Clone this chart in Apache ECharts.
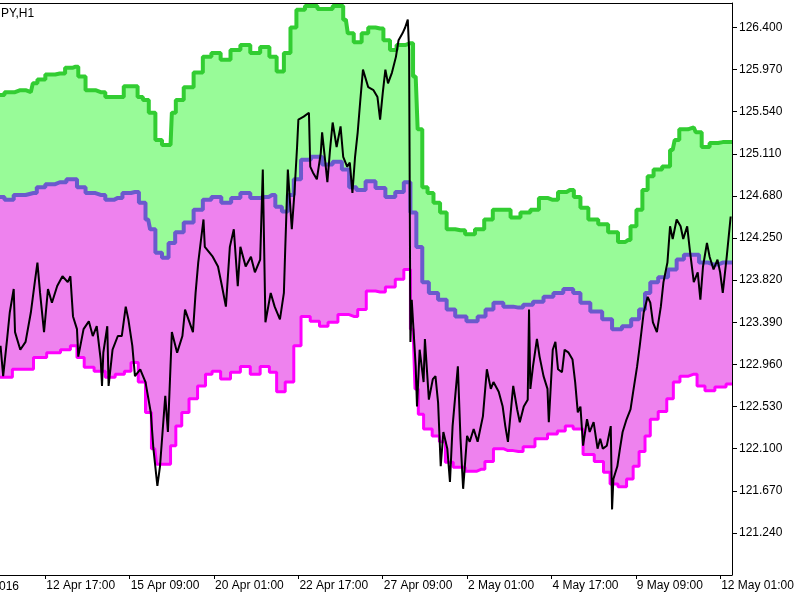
<!DOCTYPE html>
<html>
<head>
<meta charset="utf-8">
<script src="https://cdn.jsdelivr.net/npm/echarts@6/dist/echarts.min.js"></script>
<style>
html, body { margin: 0; padding: 0; background: #fff; }
#chart { width: 800px; height: 600px; }
</style>
</head>
<body>
<div id="chart"></div>
<script>
// x = hourly bar number, counted from the first date label
var xTicks = [0, 64, 128, 192, 256, 320, 384, 448, 512, 576];
var xLabels = ['8 Apr 2016', '12 Apr 17:00', '15 Apr 09:00', '20 Apr 01:00', '22 Apr 17:00',
    '27 Apr 09:00', '2 May 01:00', '4 May 17:00', '9 May 09:00', '12 May 01:00'];
var yTicks = [121.24, 121.67, 122.10, 122.53, 122.96, 123.39, 123.82, 124.25, 124.68, 125.11, 125.54, 125.97, 126.40];

var upperBand = [[29,125.71],[37,125.74],[45,125.76],[53,125.74],[56,125.83],[60,125.87],[68,125.92],[75,125.93],
    [83,125.99],[87,126.00],[91,125.90],[98,125.76],[106,125.74],[113,125.69],[121,125.69],[126,125.80],[132,125.80],
    [136,125.69],[140,125.66],[145,125.53],[150,125.25],[155,125.20],[159,125.20],[161,125.53],[165,125.66],[173,125.79],
    [180,125.94],[187,126.10],[193,126.14],[201,126.07],[208,126.17],[216,126.22],[223,126.14],[231,126.20],[237,126.10],
    [242,125.95],[248,126.14],[252,126.40],[257,126.58],[265,126.62],[276,126.59],[288,126.62],[292,126.48],[295,126.34],
    [301,126.25],[307,126.34],[311,126.40],[318,126.39],[323,126.27],[328,126.17],[333,126.22],[341,126.24],[345,125.90],
    [348,125.36],[352,124.77],[356,124.71],[361,124.61],[366,124.51],[371,124.34],[379,124.33],[386,124.29],[394,124.34],
    [400,124.44],[407,124.54],[413,124.54],[421,124.46],[428,124.51],[436,124.54],[441,124.66],[449,124.64],[457,124.72],
    [462,124.74],[468,124.67],[472,124.56],[480,124.44],[487,124.39],[495,124.31],[502,124.21],[506,124.23],[510,124.37],
    [515,124.54],[519,124.74],[523,124.88],[528,124.95],[536,124.98],[540,125.15],[543,125.25],[547,125.36],[556,125.38],
    [559,125.33],[565,125.18],[571,125.22],[578,125.23],[585,125.23]];

var middleBand = [[29,124.67],[37,124.64],[43,124.69],[55,124.71],[60,124.77],[68,124.80],[75,124.82],[85,124.85],
    [91,124.77],[98,124.71],[106,124.69],[113,124.64],[119,124.66],[126,124.71],[132,124.72],[138,124.61],[142,124.44],
    [145,124.34],[150,124.10],[155,124.05],[160,124.20],[165,124.31],[173,124.41],[180,124.54],[187,124.64],[193,124.67],
    [202,124.61],[208,124.66],[216,124.71],[223,124.66],[231,124.67],[236,124.69],[241,124.57],[246,124.52],[250,124.69],
    [255,124.85],[261,125.05],[270,125.08],[278,125.00],[286,125.03],[292,124.95],[297,124.77],[303,124.74],[311,124.83],
    [318,124.76],[326,124.67],[333,124.72],[339,124.82],[343,124.51],[348,124.16],[352,123.80],[358,123.69],[366,123.62],
    [371,123.52],[379,123.45],[388,123.40],[396,123.45],[400,123.52],[408,123.59],[415,123.55],[423,123.54],[430,123.57],
    [438,123.60],[446,123.65],[453,123.69],[461,123.73],[468,123.69],[472,123.59],[483,123.50],[490,123.42],[498,123.32],
    [505,123.35],[512,123.42],[517,123.52],[521,123.69],[525,123.80],[533,123.85],[540,123.93],[546,124.03],[551,124.08],
    [557,124.08],[563,124.00],[571,123.98],[578,124.00],[585,124.00]];

var lowerBand = [[29,122.83],[37,122.83],[41,122.91],[50,122.91],[60,123.03],[70,123.08],[81,123.11],[85,123.15],
    [91,123.03],[96,122.93],[106,122.89],[113,122.83],[121,122.86],[127,122.89],[131,122.98],[138,122.78],[142,122.47],
    [147,122.10],[150,121.94],[157,121.94],[161,122.13],[165,122.33],[170,122.47],[176,122.61],[183,122.74],[188,122.86],
    [193,122.89],[201,122.81],[208,122.88],[216,122.94],[223,122.86],[231,122.94],[237,122.88],[242,122.68],[250,122.78],
    [255,123.15],[261,123.45],[269,123.40],[275,123.35],[282,123.39],[290,123.47],[298,123.45],[304,123.52],[311,123.71],
    [318,123.70],[326,123.75],[333,123.83],[339,123.93],[343,123.32],[346,122.71],[348,122.45],[354,122.30],[361,122.23],
    [365,122.17],[370,121.96],[377,121.91],[388,121.87],[395,121.89],[400,121.97],[408,122.10],[415,122.08],[423,122.07],
    [430,122.12],[441,122.20],[449,122.25],[456,122.28],[461,122.33],[468,122.30],[476,122.04],[485,121.97],[490,121.86],
    [495,121.74],[502,121.71],[508,121.79],[512,121.92],[517,122.07],[521,122.23],[525,122.40],[533,122.48],[538,122.61],
    [543,122.78],[548,122.84],[556,122.86],[561,122.74],[568,122.69],[576,122.73],[585,122.76]];

var price = [[30,123.15],[32,122.84],[35,123.22],[37,123.49],[40,123.73],[41,123.29],[45,123.11],[49,123.19],[53,123.49],
    [56,123.80],[58,124.00],[60,123.69],[63,123.29],[66,123.73],[69,123.59],[73,123.76],[77,123.86],[81,123.80],[83,123.86],
    [85,123.45],[88,123.32],[89,123.04],[93,123.32],[97,123.40],[100,123.25],[103,123.35],[106,123.01],[107,122.74],
    [108,123.08],[111,123.35],[112,122.74],[115,123.11],[119,123.25],[122,123.25],[125,123.55],[127,123.42],[130,123.15],
    [132,122.84],[136,122.91],[140,122.78],[144,122.47],[146,122.10],[149,121.72],[151,121.92],[155,122.64],[157,122.27],
    [160,123.29],[164,123.08],[168,123.25],[170,123.52],[176,123.29],[178,123.69],[180,124.00],[184,124.44],[185,124.16],
    [191,124.06],[195,123.96],[198,123.76],[201,123.55],[204,124.16],[207,124.34],[210,123.76],[212,124.16],[216,123.96],
    [220,124.06],[223,123.90],[227,124.03],[229,124.95],[231,123.39],[235,123.69],[238,123.55],[242,123.42],[245,123.69],
    [246,124.13],[248,124.95],[251,124.34],[253,124.71],[255,125.18],[256,125.46],[260,125.49],[264,125.53],[265,124.98],
    [267,124.92],[270,124.85],[273,125.12],[274,125.33],[276,125.08],[278,124.82],[280,125.15],[282,125.43],[285,125.18],
    [288,125.39],[290,125.08],[293,124.98],[295,125.02],[297,124.71],[299,125.08],[301,125.33],[303,125.66],[305,125.97],
    [309,125.79],[313,125.76],[316,125.69],[318,125.46],[320,125.73],[322,125.97],[324,125.83],[327,125.94],[330,126.10],
    [332,126.27],[335,126.34],[337,126.40],[339,126.48],[340,126.17],[341,123.19],[342,123.62],[345,122.94],[346,122.53],
    [348,123.11],[351,122.78],[352,123.22],[355,122.60],[358,122.81],[360,122.84],[362,122.57],[364,121.92],[366,122.27],
    [369,122.10],[371,121.76],[373,122.33],[377,122.94],[379,122.20],[381,121.69],[384,122.23],[386,122.17],[389,122.30],
    [392,122.17],[394,122.30],[396,122.43],[399,122.91],[402,122.71],[404,122.78],[408,122.68],[411,122.53],[413,122.33],
    [415,122.17],[418,122.60],[419,122.74],[422,122.50],[424,122.37],[427,122.53],[430,122.60],[431,123.52],[432,122.71],
    [434,122.94],[437,123.22],[439,123.04],[442,122.84],[445,122.71],[446,122.37],[449,123.11],[451,123.19],[453,122.91],
    [456,122.88],[458,123.11],[461,123.08],[464,123.01],[466,122.78],[468,122.47],[470,122.53],[472,122.13],[475,122.40],
    [477,122.27],[480,122.37],[483,122.10],[485,122.20],[487,122.10],[490,122.13],[493,122.33],[494,121.48],[495,121.79],
    [498,121.92],[500,122.10],[502,122.27],[505,122.40],[508,122.50],[510,122.68],[513,122.94],[515,123.15],[518,123.49],
    [521,123.65],[523,123.59],[525,123.39],[528,123.29],[531,123.55],[533,123.80],[536,124.00],[538,124.37],[540,124.24],
    [543,124.44],[546,124.37],[548,124.24],[551,124.37],[553,124.13],[556,123.80],[559,123.90],[561,123.62],[563,123.96],
    [566,124.20],[568,124.06],[571,123.93],[574,124.03],[576,123.90],[578,123.69],[581,124.06],[584,124.47]];

var font = 'Liberation Sans';
var myChart = echarts.init(document.getElementById('chart'));

function band(data, lineColor, width, fillColor, z) {
    return {
        type: 'line',
        data: data,
        step: 'middle',
        symbol: 'none',
        z: z,
        lineStyle: { color: lineColor, width: width },
        areaStyle: { color: fillColor, opacity: 1, origin: 'start' }
    };
}

var option = {
    animation: false,
    backgroundColor: '#fff',
    grid: { left: 0, right: 68, top: 3, bottom: 25, show: false },
    graphic: [{
        type: 'text', left: 1, top: 8, z: 100,
        style: { text: 'PY,H1', fill: '#000', font: '12px ' + font }
    }, {
        // first date label, cut by the left edge as in the picture
        type: 'text', x: 19, y: 581, z: 100,
        style: { text: xLabels[0], fill: '#000', font: '12px ' + font, align: 'right', verticalAlign: 'top' }
    }],
    xAxis: [{
        type: 'value', min: 29.6, max: 585,
        splitLine: { show: false },
        axisLine: { lineStyle: { color: '#000', width: 1 } },
        axisTick: { customValues: xTicks, length: 4, lineStyle: { color: '#000' } },
        axisLabel: {
            customValues: xTicks, color: '#000', fontFamily: font, fontSize: 12,
            align: 'left', margin: 5, padding: [0, 0, 0, 1],
            formatter: function (v) { return xLabels[xTicks.indexOf(v)]; }
        }
    }, {
        // top frame line
        type: 'value', position: 'top', min: 29.6, max: 585,
        splitLine: { show: false },
        axisLine: { show: true, lineStyle: { color: '#000', width: 1 } },
        axisTick: { show: false },
        axisLabel: { show: false }
    }],
    yAxis: {
        type: 'value', position: 'right', min: 120.81, max: 126.65,
        splitLine: { show: false },
        axisLine: { show: true, lineStyle: { color: '#000', width: 1 } },
        axisTick: { show: true, customValues: yTicks, length: 5, lineStyle: { color: '#000' } },
        axisLabel: {
            customValues: yTicks, color: '#000', fontFamily: font, fontSize: 12, margin: 7,
            formatter: function (v) { return v.toFixed(3); }
        }
    },
    series: [
        band(upperBand, '#32CD32', 4, '#98FB98', 1),
        band(middleBand, '#6A5ACD', 4, '#EE82EE', 2),
        band(lowerBand, '#FF00FF', 3, '#FFFFFF', 3),
        {
            type: 'line', data: price, symbol: 'none', z: 4,
            lineStyle: { color: '#000', width: 2 }
        }
    ]
};
myChart.setOption(option);
window.addEventListener('resize', function () {
    myChart.resize();
});
</script>
</body>
</html>
